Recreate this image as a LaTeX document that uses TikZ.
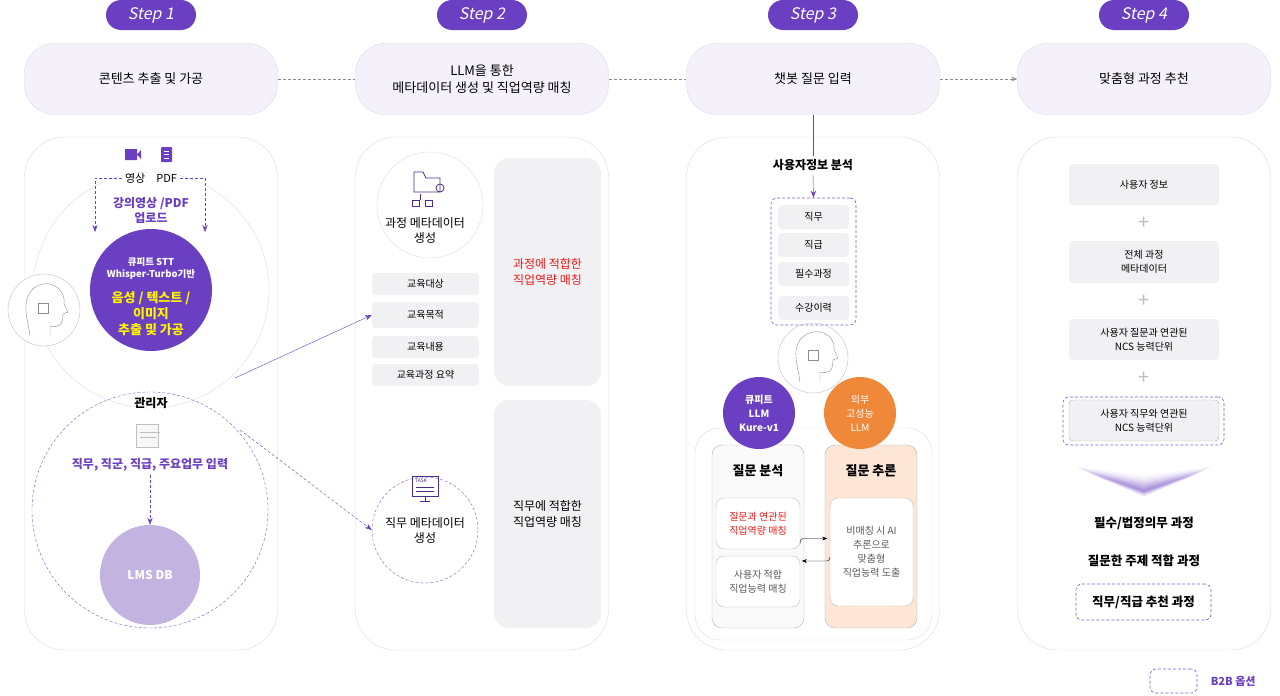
\documentclass[tikz,border=0pt]{standalone}
\usepackage{fontspec}
\setmainfont{Noto Sans CJK KR}
\newfontfamily\slantfont[FakeSlant=0.2]{Noto Sans CJK KR}
\usetikzlibrary{arrows.meta,positioning,calc}
\definecolor{violet}{HTML}{6A3FC1}
\definecolor{lilac}{HTML}{F4F1FB}
\definecolor{lineC}{HTML}{DDD6F2}
\definecolor{grayF}{HTML}{F1F1F3}
\definecolor{lms}{HTML}{C3B3E0}
\definecolor{orng}{HTML}{F0883A}
\definecolor{peach}{HTML}{FDE6D6}
\definecolor{redT}{HTML}{F01818}
\begin{document}
\begin{tikzpicture}[
      x=1pt,y=-1pt,
      font=\fontsize{11}{14}\selectfont,
      steptag/.style={fill=violet,text=white,rounded corners=15pt,minimum width=90pt,minimum height=30pt,font=\fontsize{16}{18}\selectfont\slantfont},
      head/.style={fill=lilac,draw=lineC,rounded corners=30pt,minimum width=253pt,minimum height=71pt,align=center,font=\fontsize{13}{17}\selectfont},
      panel/.style={draw=lineC,rounded corners=40pt,minimum width=253pt,minimum height=513pt},
      gbox/.style={fill=grayF,rounded corners=4pt,align=center,font=\fontsize{10}{14}\selectfont},
      wbox/.style={fill=white,draw=black!25,rounded corners=8pt,align=center,font=\fontsize{10}{14}\selectfont},
      opt/.style={draw=violet!85,semithick,densely dashed,rounded corners=6pt},
      link/.style={thin,densely dashed,draw=black!45},
      trans/.style={violet,->,>={Stealth[length=7pt]}},
      dtrans/.style={violet,densely dashed,->,>={Stealth[length=7pt]}}
    ]
    \useasboundingbox (0,0) rectangle (1280,696);
    % Draw the step tags and headers.
    \foreach \i/\cx in {1/151,2/482,3/813,4/1144}{
      \node[steptag] (tag\i) at (\cx,15) {Step \i};
      \node[panel] (panel\i) at (\cx,393.5) {};
    }
    \node[head] (h1) at (151,79) {콘텐츠 추출 및 가공};
    \node[head] (h2) at (482,79) {LLM을 통한\\메타데이터 생성 및 직업역량 매칭};
    \node[head] (h3) at (813,79) {챗봇 질문 입력};
    \node[head] (h4) at (1144,79) {맞춤형 과정 추천};
    \draw[link] (h1) -- (h2);
    \draw[link] (h2) -- (h3);
    \draw[link,->,>={Stealth[length=6pt]}] (h3) -- (h4);
    % Step 1: contents.
    \node[circle,draw=lineC,minimum size=236pt] (big) at (151,290) {};
    \node[circle,draw=black!25,fill=white,minimum size=72pt] (brain1) at (44,310) {};
    \draw[black!45] (30,336) .. controls (28,320) and (20,300) .. (34,288) .. controls (46,278) and (66,286) .. (64,304) -- (68,312) -- (63,314) .. controls (63,326) and (58,328) .. (50,326) -- (50,336);
    \draw[black!45] (38,303) rectangle (48,313);
    \node[circle,fill=violet,minimum size=122pt] (stt) at (151,290) {};
    \node[text=white,align=center,font=\fontsize{9.5}{12}\selectfont\bfseries] (sttT) at (151,268) {큐피트 STT\\Whisper-Turbo기반};
    \node[text=yellow,align=center,font=\fontsize{13}{16}\selectfont\bfseries] (sttY) at (151,314) {음성 / 텍스트 /\\이미지\\추출 및 가공};
    \fill[violet] (125,149) rectangle (137,160) (137,154.5) -- (141,150) -- (141,159) -- cycle;
    \fill[violet,rounded corners=1pt] (161,147) rectangle (172,162);
    \draw[white,thin] (164,151) -- (169,151) (164,154.5) -- (169,154.5) (164,158) -- (169,158);
    \node[font=\fontsize{11}{13}\selectfont] (media) at (151,178) {영상\quad PDF};
    \coordinate (lA) at (95,232);
    \coordinate (rA) at (205,232);
    \draw[dtrans] (media.west) -| (lA);
    \draw[dtrans] (media.east) -| (rA);
    \node[violet,align=center,font=\fontsize{12}{15}\selectfont\bfseries] (upl) at (151,210) {강의영상 /PDF\\업로드};
    \node[circle,draw=violet!85,densely dashed,minimum size=236pt] (admin) at (150,510) {};
    \node[font=\fontsize{12}{14}\selectfont\bfseries] (adm) at (151,403) {관리자};
    \draw[black!25,fill=black!3] (136,424) rectangle (158,447);
    \draw[black!25] (140,432) -- (160,432) (140,437) -- (156,437);
    \node[violet,font=\fontsize{12}{14}\selectfont\bfseries] (input) at (150,465) {직무, 직군, 직급, 주요업무 입력};
    \node[circle,fill=lms,text=white,minimum size=100pt,font=\fontsize{12}{14}\selectfont\bfseries] (db) at (150,575) {LMS DB};
    \draw[dtrans] (input) -- (db);
    % Step 2: metadata.
    \node[circle,draw=lineC,minimum size=106pt] (meta1) at (430,205) {};
    \draw[violet!70!black,thick] (414,172) -- (414,192) -- (440,192) -- (440,178) -- (426,178) -- (423,172) -- cycle;
    \draw[violet!70!black,thick] (440,188) circle (4);
    \draw[violet!70!black,thick] (420,194) -- (420,200) (412,200) rectangle (419,206) (425,200) rectangle (432,206);
    \node[align=center,font=\fontsize{12}{15}\selectfont] (meta1T) at (425,230) {과정 메타데이터\\생성};
    \node[gbox,minimum width=107pt,minimum height=22pt] (g1) at (425.5,284) {교육대상};
    \node[gbox,minimum width=107pt,minimum height=26pt] (g2) at (425.5,315) {교육목적};
    \node[gbox,minimum width=107pt,minimum height=22pt] (g3) at (425.5,347) {교육내용};
    \node[gbox,minimum width=107pt,minimum height=22pt] (g4) at (425.5,375) {교육과정 요약};
    \node[gbox,rounded corners=15pt,text=redT,minimum width=107pt,minimum height=228pt,font=\fontsize{12}{16}\selectfont] (fit1) at (547.5,272) {과정에 적합한\\직업역량 매칭};
    \node[circle,draw=violet!85,densely dashed,minimum size=106pt] (meta2) at (425,530) {};
    \draw[violet!70!black,thick] (412,476) rectangle (438,496) (420,501) -- (430,501) (425,496) -- (425,501);
    \node[font=\fontsize{5}{6}\selectfont,violet!70!black] (task) at (421,481) {TASK};
    \draw[violet!70!black] (416,487) -- (434,487) (416,491) -- (434,491);
    \node[align=center,font=\fontsize{12}{15}\selectfont] (meta2T) at (425,530) {직무 메타데이터\\생성};
    \node[gbox,rounded corners=15pt,minimum width=107pt,minimum height=228pt,font=\fontsize{12}{16}\selectfont] (fit2) at (547.5,514) {직무에 적합한\\직업역량 매칭};
    \coordinate (s1) at (235,378);
    \coordinate (s2) at (240,430);
    \draw[trans] (s1) -- (g2.west);
    \draw[dtrans] (s2) -- (meta2.west);
    % Step 3: chatbot.
    \node[font=\fontsize{12}{14}\selectfont\bfseries] (uinfo) at (813,165) {사용자정보 분석};
    \draw[violet] (h3.south) -- (uinfo.north);
    \node[opt,minimum width=85pt,minimum height=127pt] (uopt) at (813.5,261.5) {};
    \draw[trans] (uinfo.south) -- (uopt.north);
    \node[gbox,minimum width=71pt,minimum height=24pt] (u1) at (813.5,217) {직무};
    \node[gbox,minimum width=71pt,minimum height=24pt] (u2) at (813.5,245) {직급};
    \node[gbox,minimum width=71pt,minimum height=24pt] (u3) at (813.5,274) {필수과정};
    \node[gbox,minimum width=71pt,minimum height=24pt] (u4) at (813.5,308) {수강이력};
    \node[circle,draw=black!25,minimum size=70pt] (brain2) at (813,358) {};
    \draw[black!45] (800,382) .. controls (798,366) and (790,346) .. (804,336) .. controls (816,326) and (836,334) .. (834,350) -- (838,358) -- (833,360) .. controls (833,372) and (828,374) .. (820,372) -- (820,382);
    \draw[black!45] (808,350) rectangle (818,360);
    \node[draw=lineC,rounded corners=25pt,minimum width=237pt,minimum height=212pt] (inner) at (813.5,534) {};
    \node[fill=black!2,draw=black!30,rounded corners=10pt,minimum width=92pt,minimum height=183pt] (ana) at (758,536.5) {};
    \node[fill=peach,draw=black!30,rounded corners=10pt,minimum width=92pt,minimum height=183pt] (inf) at (871,536.5) {};
    \node[circle,fill=violet,text=white,minimum size=72pt,align=center,font=\fontsize{10}{14}\selectfont\bfseries] (llm1) at (759,413) {큐피트\\LLM\\Kure-v1};
    \node[circle,fill=orng,text=white,minimum size=72pt,align=center,font=\fontsize{10}{14}\selectfont] (llm2) at (860,413) {외부\\고성능\\LLM};
    \node[font=\fontsize{13}{15}\selectfont\bfseries] (anaT) at (758,471) {질문 분석};
    \node[font=\fontsize{13}{15}\selectfont\bfseries] (infT) at (871,471) {질문 추론};
    \node[wbox,text=redT,minimum width=84pt,minimum height=51pt] (a1) at (758,523.5) {질문과 연관된\\직업역량 매칭};
    \node[wbox,text=black!65,minimum width=84pt,minimum height=51pt] (a2) at (758,581.5) {사용자 적합\\직업능력 매칭};
    \node[wbox,text=black!65,minimum width=83pt,minimum height=108pt] (i1) at (871.5,552) {비매칭 시 AI\\추론으로\\맞춤형\\직업능력 도출};
    \draw[->,>={Stealth[length=5pt]},rounded corners=3pt] ($(a1.east)+(0,20)$) -- ++(0,-5) -- ++(27,0);
    \draw[->,>={Stealth[length=5pt]},rounded corners=3pt] ($(i1.west)+(0,5)$) -- ++(0,4) -- ++(-28,0);
    % Step 4: recommendation.
    \node[gbox,minimum width=150pt,minimum height=41pt] (r1) at (1144,184.5) {사용자 정보};
    \node[gbox,minimum width=150pt,minimum height=42pt] (r2) at (1144,262) {전체 과정\\메타데이터};
    \node[gbox,minimum width=150pt,minimum height=41pt] (r3) at (1144,339.5) {사용자 질문과 연관된\\NCS 능력단위};
    \node[opt,minimum width=161pt,minimum height=48pt] (r4o) at (1143.5,421) {};
    \node[gbox,draw=black!30,minimum width=150pt,minimum height=41pt] (r4) at (1144,420.5) {사용자 직무와 연관된\\NCS 능력단위};
    \foreach \py in {223,301,378}
      \node[black!25,font=\fontsize{20}{20}\selectfont] at (1144,\py) {+};
    \foreach \k in {0,...,10}
      \fill[violet,opacity=0.025*\k+0.01] (1071+3*\k,465+1.3*\k) -- (1144,490+0.5*\k) -- (1217-3*\k,465+1.3*\k) -- (1144,474+2.2*\k) -- cycle;
    \node[font=\fontsize{12.5}{15}\selectfont\bfseries] (c1) at (1144,523) {필수/법정의무 과정};
    \node[font=\fontsize{12.5}{15}\selectfont\bfseries] (c2) at (1144,561) {질문한 주제 적합 과정};
    \node[opt,minimum width=135pt,minimum height=36pt,font=\fontsize{12.5}{15}\selectfont\bfseries] (c3) at (1143.5,602) {직무/직급 추천 과정};
    % Draw the legend.
    \node[opt,minimum width=47pt,minimum height=24pt] (leg) at (1173.5,681) {};
    \node[violet,right=10pt of leg,font=\fontsize{11}{13}\selectfont\bfseries] (legT) {B2B 옵션};
\end{tikzpicture}
\end{document}
